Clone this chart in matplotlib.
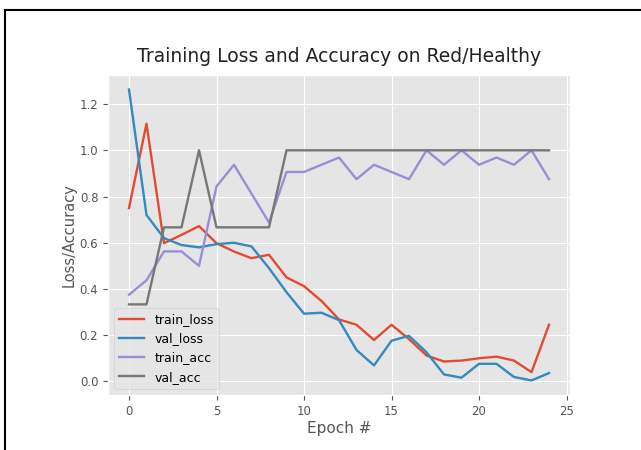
import matplotlib
matplotlib.use("Agg")
import matplotlib.pyplot as plt
from matplotlib.lines import Line2D
import numpy as np

epochs = list(range(25))
train_loss = [0.75, 1.115, 0.598, 0.634, 0.672, 0.598, 0.562, 0.533, 0.548, 0.45, 0.412,
              0.348, 0.268, 0.245, 0.179, 0.245, 0.183, 0.112, 0.086, 0.09, 0.10, 0.107,
              0.09, 0.04, 0.245]
val_loss = [1.263, 0.72, 0.62, 0.59, 0.58, 0.594, 0.60, 0.584, 0.49, 0.386, 0.293,
            0.297, 0.265, 0.136, 0.069, 0.176, 0.197, 0.126, 0.03, 0.016, 0.076, 0.076,
            0.019, 0.004, 0.036]
train_acc = [0.375, 0.4375, 0.5625, 0.5625, 0.5, 0.84375, 0.9375, 0.8125, 0.6875, 0.90625,
             0.90625, 0.9375, 0.96875, 0.875, 0.9375, 0.90625, 0.875, 1.0, 0.9375, 1.0,
             0.9375, 0.96875, 0.9375, 1.0, 0.875]
val_acc = [0.3333, 0.3333, 0.6667, 0.6667, 1.0, 0.6667, 0.6667, 0.6667, 0.6667, 1.0,
           1.0, 1.0, 1.0, 1.0, 1.0, 1.0, 1.0, 1.0, 1.0, 1.0, 1.0, 1.0, 1.0, 1.0, 1.0]
series_names = ["train_loss", "val_loss", "train_acc", "val_acc"]

plt.style.use("ggplot")
fig = plt.figure(figsize=(6.41, 4.5), dpi=100)
ax = fig.add_axes([108/641, 1-395/450, (570-108)/641, (395-75)/450])

for name, vals in zip(series_names, [train_loss, val_loss, train_acc, val_acc]):
    ax.plot(epochs, vals, label=name, linewidth=1.7)

ax.set_xticks([0, 5, 10, 15, 20, 25])
ax.set_yticks([0.0, 0.2, 0.4, 0.6, 0.8, 1.0, 1.2])
ax.tick_params(labelsize=8.5)
ax.set_title("Training Loss and Accuracy on Red/Healthy", fontsize=13.5, color="#222222", pad=9)
ax.set_xlabel("Epoch #", fontsize=11, labelpad=2)
ax.set_ylabel("Loss/Accuracy", fontsize=10.5, labelpad=2)
ax.legend(loc="lower left", fontsize=9)

# outer frame
fig.add_artist(Line2D([5/641, 5/641], [0, 1-10/450], transform=fig.transFigure, color="black", linewidth=1.5))
fig.add_artist(Line2D([5/641, 1], [1-10/450, 1-10/450], transform=fig.transFigure, color="black", linewidth=1.5))

fig.savefig("out.png", dpi=100)
